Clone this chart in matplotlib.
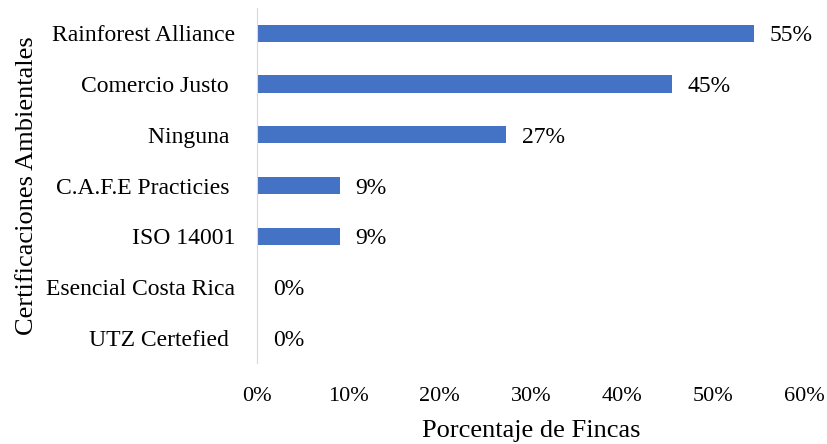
import matplotlib.pyplot as plt
from matplotlib.ticker import FuncFormatter

plt.rcParams['font.family'] = ['Liberation Serif', 'DejaVu Serif']

categorias = ['Rainforest Alliance', 'Comercio Justo ', 'Ninguna ', 'C.A.F.E Practicies ',
              'ISO 14001', 'Esencial Costa Rica', 'UTZ Certefied ']
porcentajes = [54.5, 45.5, 27.3, 9.1, 9.1, 0.0, 0.0]
etiquetas = ['55%', '45%', '27%', '9%', '9%', '0%', '0%']

fig = plt.figure(figsize=(8.27, 4.44), dpi=100)
ax = fig.add_axes([0.311, 0.1815, 0.662, 0.801])

pos = list(range(len(categorias)))[::-1]
ax.barh(pos, porcentajes, height=0.34, color='#4472C4')

for p, v, t in zip(pos, porcentajes, etiquetas):
    ax.text(v + 1.7, p - 0.05, t, va='center', ha='left', fontsize=17)

ax.set_yticks(pos)
ax.set_yticklabels(categorias, fontsize=17)
ax.set_xlim(0, 60)
ax.set_ylim(-0.5, len(categorias) - 0.5)
ax.set_xticks(range(0, 61, 10))
ax.xaxis.set_major_formatter(FuncFormatter(lambda x, _: f'{x:.0f}%'))
ax.tick_params(axis='x', labelsize=16, length=0, pad=17)
ax.tick_params(axis='y', length=0, pad=16)

for s in ['top', 'right', 'bottom']:
    ax.spines[s].set_visible(False)
ax.spines['left'].set_color('#D9D9D9')

ax.set_xlabel('Porcentaje de Fincas', fontsize=19, labelpad=10)
ax.set_ylabel('Certificaciones Ambientales', fontsize=19, labelpad=6)

plt.savefig('out.png', dpi=100)
